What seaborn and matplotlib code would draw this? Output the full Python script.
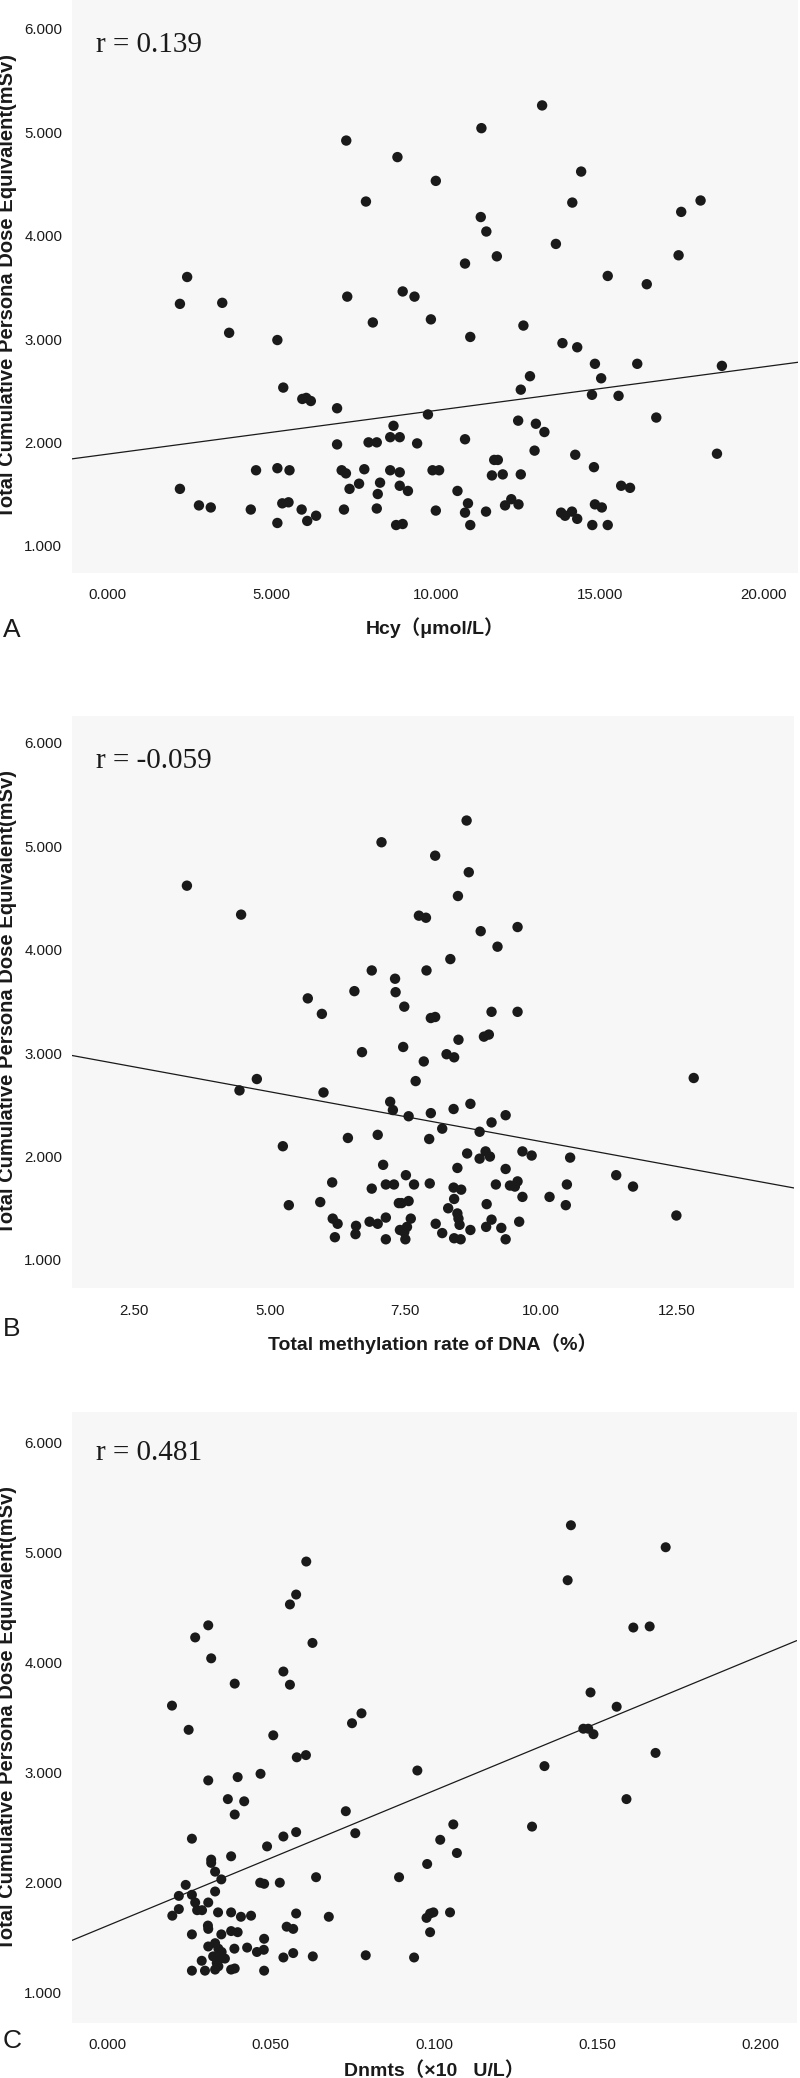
import matplotlib

matplotlib.use("Agg")

import matplotlib.pyplot as plt
import pandas as pd
import seaborn as sns
from matplotlib.ticker import FormatStrFormatter

Y_LABEL = "Total Cumulative Persona Dose Equivalent(mSv)"
Y_TICKS = [1, 2, 3, 4, 5, 6]

# Panel A: Hcy vs dose
hcy_x = [
    7.27, 7.87, 8.83, 2.42, 2.20, 3.49, 7.30, 8.99, 9.35, 13.24, 11.39, 10.00, 14.43, 14.16, 18.07,
    17.48, 11.37, 11.54, 13.66, 10.89, 11.86, 17.40, 15.24, 16.43, 3.70, 8.08, 5.17, 5.35, 5.93, 6.05,
    6.19, 6.99, 6.99, 8.71, 7.95, 8.20, 8.61, 8.90, 2.20, 2.78, 3.14, 4.36, 4.52, 5.17, 5.54,
    5.32, 5.51, 5.17, 5.91, 6.08, 6.35, 7.13, 7.26, 7.82, 7.37, 7.66, 8.30, 8.23, 8.20, 7.20,
    8.61, 8.90, 8.90, 8.79, 9.85, 12.67, 11.05, 13.86, 14.31, 14.85, 16.14, 18.72, 12.87, 15.04, 12.59,
    14.76, 15.57, 9.76, 16.72, 12.51, 13.05, 13.31, 9.43, 10.89, 13.01, 14.25, 18.57, 11.78, 11.89, 9.90,
    10.10, 11.71, 12.04, 12.59, 14.82, 9.15, 10.66, 15.65, 15.92, 10.98, 10.89, 10.00, 11.53, 12.11, 12.30,
    12.52, 13.82, 13.94, 14.15, 14.31, 14.85, 15.06, 14.77, 15.24, 8.99, 11.05,
]
hcy_y = [
    4.92, 4.33, 4.76, 3.60, 3.34, 3.35, 3.41, 3.46, 3.41, 5.26, 5.04, 4.53, 4.62, 4.32, 4.34,
    4.23, 4.18, 4.04, 3.92, 3.73, 3.80, 3.81, 3.61, 3.53, 3.06, 3.16, 2.99, 2.53, 2.42, 2.43,
    2.40, 2.33, 1.98, 2.16, 2.00, 2.00, 2.05, 2.05, 1.55, 1.39, 1.37, 1.35, 1.73, 1.75, 1.73,
    1.41, 1.42, 1.22, 1.35, 1.24, 1.29, 1.73, 1.70, 1.74, 1.55, 1.60, 1.61, 1.50, 1.36, 1.35,
    1.73, 1.71, 1.58, 1.20, 3.19, 3.13, 3.02, 2.96, 2.92, 2.76, 2.76, 2.74, 2.64, 2.62, 2.51,
    2.46, 2.45, 2.27, 2.24, 2.21, 2.18, 2.10, 1.99, 2.03, 1.92, 1.88, 1.89, 1.83, 1.83, 1.73,
    1.73, 1.68, 1.69, 1.69, 1.76, 1.53, 1.53, 1.58, 1.56, 1.41, 1.32, 1.34, 1.33, 1.39, 1.45,
    1.40, 1.32, 1.29, 1.33, 1.26, 1.40, 1.37, 1.20, 1.20, 1.21, 1.20,
]

# Panel B: total DNA methylation rate vs dose
meth_x = [
    3.47, 4.47, 7.06, 6.88, 7.31, 7.32, 6.56, 5.70, 5.96, 6.70,
    8.63, 8.05, 8.67, 8.47, 7.75, 7.88, 8.89, 9.57, 9.20, 8.33, 7.89, 7.48, 7.97, 8.05, 9.09,
    9.57, 8.48, 8.95, 9.04, 7.46,
    4.76, 4.44, 5.99, 7.22, 7.27, 5.24, 6.44, 6.99, 7.09, 6.15, 6.88, 7.14, 7.29, 5.35, 5.93,
    7.38, 6.16, 6.25, 6.59, 6.58, 6.84, 6.99, 7.14, 6.20, 7.14, 7.40,
    8.26, 8.40, 7.84, 7.69, 12.82, 8.70, 8.39, 7.97, 7.56, 9.35, 9.09, 8.18, 8.87, 7.94, 8.64,
    8.87, 8.98, 9.06, 9.66, 9.83, 10.54, 8.46, 9.35, 11.39, 11.70, 7.51, 7.66, 7.95, 8.39, 8.53,
    9.17, 9.43, 9.52, 9.57, 9.66, 10.16, 10.48, 10.46, 12.50, 7.43, 7.56, 8.40, 8.29, 9.00, 8.46,
    8.48, 8.50, 7.60, 7.53, 7.48, 7.50, 8.06, 8.18, 8.40, 8.52, 8.70, 8.99, 9.09, 9.27, 9.35, 9.60,
]
meth_y = [
    4.62, 4.34, 5.04, 3.80, 3.72, 3.59, 3.60, 3.53, 3.38, 3.01,
    5.25, 4.91, 4.75, 4.52, 4.33, 4.31, 4.18, 4.22, 4.03, 3.91, 3.80, 3.45, 3.34, 3.35, 3.40,
    3.40, 3.13, 3.16, 3.18, 3.06,
    2.75, 2.64, 2.62, 2.53, 2.45, 2.10, 2.18, 2.21, 1.92, 1.75, 1.69, 1.73, 1.73, 1.53, 1.56,
    1.55, 1.40, 1.35, 1.33, 1.25, 1.37, 1.35, 1.41, 1.22, 1.20, 1.29,
    2.99, 2.96, 2.92, 2.73, 2.76, 2.51, 2.46, 2.42, 2.39, 2.40, 2.33, 2.27, 2.24, 2.17, 2.03,
    1.98, 2.05, 2.00, 2.05, 2.01, 1.99, 1.89, 1.88, 1.82, 1.71, 1.82, 1.73, 1.74, 1.70, 1.68,
    1.73, 1.72, 1.71, 1.76, 1.61, 1.61, 1.73, 1.53, 1.43, 1.55, 1.57, 1.59, 1.50, 1.54, 1.45,
    1.40, 1.34, 1.40, 1.32, 1.27, 1.20, 1.35, 1.26, 1.21, 1.20, 1.29, 1.32, 1.39, 1.31, 1.20, 1.37,
]

# Panel C: Dnmts vs dose
dnmt_x = [
    0.0609, 0.0578, 0.0559, 0.0309, 0.0269, 0.0628, 0.0318, 0.0539, 0.0390, 0.0559, 0.0198, 0.0249,
    0.0508, 0.0749, 0.0778,
    0.1419, 0.1709, 0.1409, 0.1610, 0.1660, 0.1479, 0.1559, 0.1457, 0.1472, 0.1488, 0.1678,
    0.0580, 0.0608, 0.0309, 0.0399, 0.0469, 0.0369, 0.0419, 0.0390, 0.0730, 0.0759, 0.0259, 0.0539,
    0.0578, 0.0489, 0.0379, 0.0318, 0.0318, 0.0330, 0.0349, 0.0639, 0.0893, 0.0468, 0.0480, 0.0528,
    0.0240, 0.0219, 0.0259, 0.0330, 0.0269, 0.0309, 0.0219, 0.0275, 0.0290, 0.0199, 0.0339, 0.0379,
    0.0409, 0.0440, 0.0578, 0.0678, 0.0308, 0.0309, 0.0349, 0.0259, 0.0379, 0.0399, 0.0549, 0.0569,
    0.0480, 0.0309, 0.0330, 0.0340, 0.0350, 0.0324, 0.0345, 0.0360, 0.0335, 0.0389, 0.0428, 0.0458,
    0.0479, 0.0539, 0.0569, 0.0629, 0.0791, 0.0289, 0.0259, 0.0299, 0.0330, 0.0340, 0.0379, 0.0390,
    0.0480,
    0.0949, 0.1338, 0.1589, 0.1300, 0.1059, 0.1019, 0.1070, 0.0979, 0.0988, 0.0998, 0.0977, 0.1049,
    0.0988, 0.0939,
]
dnmt_y = [
    4.92, 4.62, 4.53, 4.34, 4.23, 4.18, 4.04, 3.92, 3.81, 3.80, 3.61, 3.39,
    3.34, 3.45, 3.54,
    5.25, 5.05, 4.75, 4.32, 4.33, 3.73, 3.60, 3.40, 3.40, 3.35, 3.18,
    3.14, 3.16, 2.93, 2.96, 2.99, 2.76, 2.74, 2.62, 2.65, 2.45, 2.40, 2.42,
    2.46, 2.33, 2.24, 2.21, 2.18, 2.10, 2.03, 2.05, 2.05, 2.00, 1.99, 2.00,
    1.98, 1.88, 1.89, 1.92, 1.82, 1.82, 1.76, 1.75, 1.75, 1.70, 1.73, 1.73,
    1.69, 1.70, 1.72, 1.69, 1.61, 1.58, 1.53, 1.53, 1.56, 1.55, 1.60, 1.58,
    1.49, 1.42, 1.45, 1.40, 1.37, 1.33, 1.31, 1.31, 1.27, 1.40, 1.41, 1.37,
    1.39, 1.32, 1.36, 1.33, 1.34, 1.29, 1.20, 1.20, 1.21, 1.24, 1.21, 1.22,
    1.20,
    3.02, 3.06, 2.76, 2.51, 2.53, 2.39, 2.27, 2.17, 1.72, 1.73, 1.68, 1.73,
    1.55, 1.32,
]

PANELS = [
    {
        "x": hcy_x, "y": hcy_y, "letter": "A", "r": "r = 0.139",
        "xlabel": "Hcy（μmol/L）", "xticks": [0, 5, 10, 15, 20], "xfmt": "%.3f",
        "rect": [72, 0, 798, 573], "xlim": (-1.09, 21.04), "ylim": (0.736, 6.28),
        "r_y": 0.909, "letter_y": 637, "dot": 56, "xpad": 11,
    },
    {
        "x": meth_x, "y": meth_y, "letter": "B", "r": "r = -0.059",
        "xlabel": "Total methylation rate of DNA（%）", "xticks": [2.5, 5, 7.5, 10, 12.5], "xfmt": "%.2f",
        "rect": [72, 715.7, 794, 1288.3], "xlim": (1.35, 14.67), "ylim": (0.726, 6.264),
        "r_y": 0.909, "letter_y": 1335.7, "dot": 56, "xpad": 11,
    },
    {
        "x": dnmt_x, "y": dnmt_y, "letter": "C", "r": "r = 0.481",
        "xlabel": "Dnmts（×10   U/L）", "xticks": [0, 0.05, 0.1, 0.15, 0.2], "xfmt": "%.3f",
        "rect": [72, 1412.3, 796.7, 2022.7], "xlim": (-0.0108, 0.211), "ylim": (0.727, 6.277),
        "r_y": 0.922, "letter_y": 2048, "dot": 52, "xpad": 7,
    },
]

W, H = 800, 2078
SANS = ["Liberation Sans", "Noto Sans CJK SC", "DejaVu Sans"]


def draw_panel(fig, panel):
    left, top, right, bottom = panel["rect"]
    ax = fig.add_axes([left / W, 1 - bottom / H, (right - left) / W, (bottom - top) / H])
    ax.set_facecolor("#f7f7f7")
    ax.set_xlim(*panel["xlim"])
    ax.set_ylim(*panel["ylim"])

    df = pd.DataFrame({"x": panel["x"], "y": panel["y"]})
    sns.regplot(data=df, x="x", y="y", ax=ax, scatter=False, ci=None, truncate=False,
                line_kws={"color": "#1a1a1a", "lw": 0.9})
    sns.scatterplot(data=df, x="x", y="y", ax=ax, s=panel["dot"], color="#1a1a1a",
                    edgecolor="none", linewidth=0, zorder=3)
    ax.set_xlim(*panel["xlim"])
    ax.set_ylim(*panel["ylim"])

    for side in ax.spines.values():
        side.set_visible(False)
    ax.spines["bottom"].set_position(("outward", 2.5))

    ax.set_xticks(panel["xticks"])
    ax.set_yticks(Y_TICKS)
    ax.xaxis.set_major_formatter(FormatStrFormatter(panel["xfmt"]))
    ax.yaxis.set_major_formatter(FormatStrFormatter("%.3f"))
    ax.tick_params(axis="x", length=5, width=1.3, color="#1a1a1a", pad=3.5,
                   labelsize=10.8, labelcolor="#1a1a1a")
    ax.tick_params(axis="y", length=6, width=1.2, color="#1a1a1a", pad=1,
                   labelsize=10.8, labelcolor="#1a1a1a")
    for lab in ax.get_xticklabels() + ax.get_yticklabels():
        lab.set_family(SANS)

    ax.set_xlabel(panel["xlabel"], fontsize=14, fontweight="bold", family=SANS,
                  color="#1a1a1a", labelpad=panel["xpad"])
    ax.set_ylabel(Y_LABEL, fontsize=14.5, fontweight="bold", family=SANS, color="#1a1a1a")
    ax.yaxis.set_label_coords(-0.076, 0.5)

    ax.text(0.033, panel["r_y"], panel["r"], transform=ax.transAxes, fontsize=21,
            family=["Liberation Serif", "DejaVu Serif"], color="#1a1a1a")
    fig.text(3 / W, 1 - panel["letter_y"] / H, panel["letter"], fontsize=19,
             family=SANS, color="#1a1a1a", va="baseline")


def main():
    sns.set_theme(style="white")
    fig = plt.figure(figsize=(W / 100, H / 100), dpi=100)
    fig.patch.set_facecolor("white")
    for panel in PANELS:
        draw_panel(fig, panel)
    fig.savefig("out.png", dpi=100, facecolor="white")
    plt.close(fig)


if __name__ == "__main__":
    main()
